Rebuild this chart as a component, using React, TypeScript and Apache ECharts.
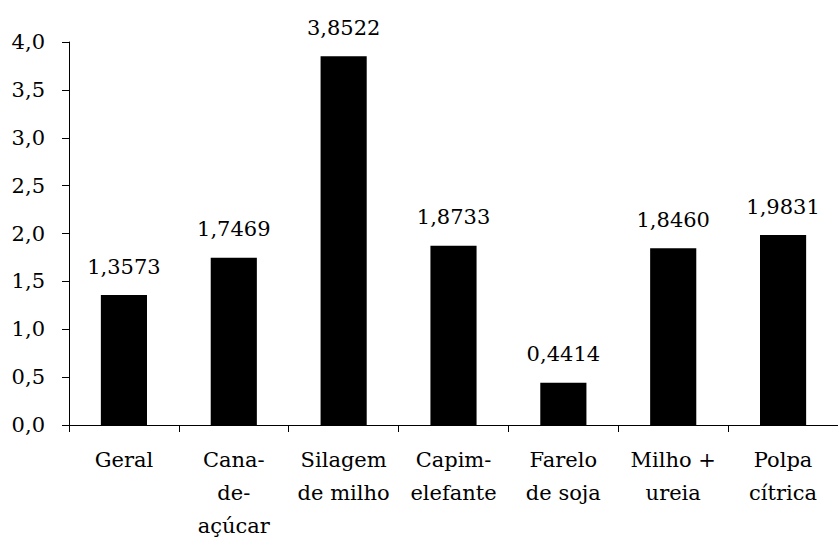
import React, { useEffect, useRef } from "react";
import * as echarts from "echarts";

const categories = [
  "Geral",
  "Cana-\nde-\naçúcar",
  "Silagem\nde milho",
  "Capim-\nelefante",
  "Farelo\nde soja",
  "Milho +\nureia",
  "Polpa\ncítrica",
];
const values = [1.3573, 1.7469, 3.8522, 1.8733, 0.4414, 1.846, 1.9831];

const FONT = "DejaVu Serif";

export default function App() {
  const ref = useRef<HTMLDivElement>(null);
  useEffect(() => {
    if (!ref.current) return;
    const chart = echarts.init(ref.current, undefined, { renderer: "svg" });
    chart.setOption({
      animation: false,
      textStyle: { fontFamily: FONT },
      grid: { left: 69, right: -6, top: 42, bottom: 116, containLabel: false },
      xAxis: {
        type: "category",
        data: categories,
        axisLine: { lineStyle: { color: "#000", width: 1 } },
        axisTick: { show: true, length: 7, lineStyle: { color: "#000" } },
        axisLabel: {
          color: "#000",
          fontFamily: FONT,
          fontSize: 21,
          lineHeight: 33,
          margin: 18,
          interval: 0,
        },
      },
      yAxis: {
        type: "value",
        min: 0,
        max: 4,
        interval: 0.5,
        axisLine: { show: true, lineStyle: { color: "#000", width: 1 } },
        axisTick: { show: true, length: 7, lineStyle: { color: "#000" } },
        splitLine: { show: false },
        axisLabel: {
          color: "#000",
          fontFamily: FONT,
          fontSize: 21,
          margin: 24,
          formatter: (v: number) => v.toFixed(1).replace(".", ","),
        },
      },
      series: [
        {
          type: "bar",
          data: values,
          barWidth: "42%",
          itemStyle: { color: "#000" },
          label: {
            show: true,
            position: "top",
            distance: 18,
            color: "#000",
            fontFamily: FONT,
            fontSize: 21,
            formatter: (p: any) => p.value.toFixed(4).replace(".", ","),
          },
        },
      ],
    });
    return () => chart.dispose();
  }, []);
  return <div ref={ref} style={{ width: 838, height: 542, position: "absolute", left: 0, top: 0 }} />;
}
